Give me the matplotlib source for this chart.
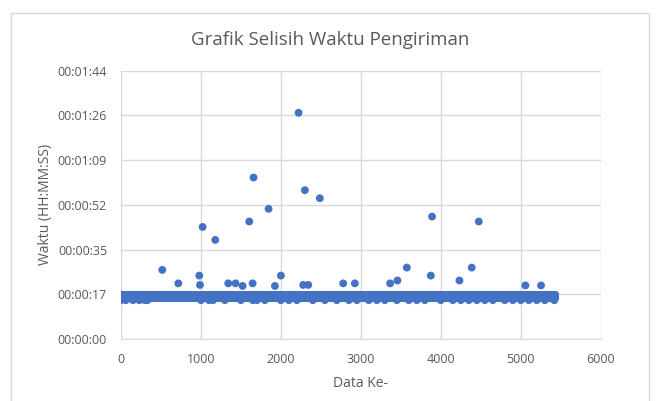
import numpy as np
import matplotlib
matplotlib.use("Agg")
import matplotlib.pyplot as plt
from matplotlib.ticker import FuncFormatter, MultipleLocator
from matplotlib.patches import Rectangle

# -------------------------
# Data (detik)
# -------------------------
# pita utama: (indeks awal, indeks akhir, detik)
band_runs = [(1, 5430, 17), (1, 5430, 16)]

# titik yang turun ke 15 detik
low_x = [0, 60, 150, 230, 300, 330, 1000, 1100, 1150, 1300, 1500, 1650,
         1700, 1800, 2000, 2100, 2200, 2400, 2550, 2700, 2850, 2950, 3100,
         3200, 3300, 3450, 3600, 3700, 3800, 4000, 4150, 4250, 4350, 4450,
         4550, 4650, 4800, 4900, 5000, 5100, 5200, 5300, 5420]
low_y = [15] * len(low_x)

# titik di atas pita
high_x = [2221, 1658, 2300, 2487, 1846, 1604, 1021, 1179, 516, 3891, 4475,
          3575, 3875, 4387, 4233, 3458, 3366, 5058, 5254,
          717, 979, 988, 1342, 1433, 1521, 1646, 2000, 1925, 2279, 2342,
          2779, 2925]
high_y = [87.4, 62.4, 57.5, 54.4, 50.3, 45.4, 43.3, 38.3, 26.7, 47.3, 45.4,
          27.6, 24.5, 27.6, 22.6, 22.6, 21.5, 20.7, 20.7,
          21.5, 24.5, 20.9, 21.5, 21.5, 20.5, 21.5, 24.5, 20.5, 20.9, 20.9,
          21.5, 21.5]

band_x = []
band_y = []
for a, b, s in band_runs:
    band_x += list(range(a, b + 1))
    band_y += [s] * (b - a + 1)

x = np.array(band_x + low_x + high_x)
y = np.array(band_y + low_y + high_y)

# -------------------------
# Grafik
# -------------------------
plt.rcParams['font.family'] = ['Open Sans', 'DejaVu Sans']
teks = '#595959'
garis = '#D9D9D9'

fig = plt.figure(figsize=(6.56, 4.01), dpi=100)
fig.patches.append(Rectangle((11 / 656, -10 / 401), 638 / 656, 398 / 401,
                             transform=fig.transFigure, fill=False,
                             edgecolor=garis, linewidth=1))
ax = fig.add_axes([121 / 656, 62 / 401, 479.7 / 656, 268.3 / 401])

ax.scatter(x, y, s=32, color='#4472C4', edgecolors='none', zorder=3)

step = 86400 / 5000
ax.set_xlim(0, 6000)
ax.set_ylim(0, step * 6)
ax.xaxis.set_major_locator(MultipleLocator(1000))
ax.yaxis.set_major_locator(MultipleLocator(step))


def fmt_waktu(v, pos):
    t = int(round(v))
    return "%02d:%02d:%02d" % (t // 3600, (t % 3600) // 60, t % 60)


ax.yaxis.set_major_formatter(FuncFormatter(fmt_waktu))
ax.grid(True, color=garis, linewidth=1, zorder=0)
for sp in ['top', 'right']:
    ax.spines[sp].set_visible(False)
for sp in ['left', 'bottom']:
    ax.spines[sp].set_color(garis)
ax.tick_params(length=0, labelsize=9, colors=teks, pad=10)
ax.tick_params(axis='x', pad=10)

fig.text(330 / 656, 1 - 40 / 401, "Grafik Selisih Waktu Pengiriman",
         fontsize=13.5, color=teks, ha='center', va='center')
ax.set_xlabel("Data Ke-", fontsize=10, color=teks, labelpad=7)
ax.set_ylabel("Waktu (HH:MM:SS)", fontsize=10, color=teks, labelpad=3)

fig.savefig("out.png", dpi=100)
